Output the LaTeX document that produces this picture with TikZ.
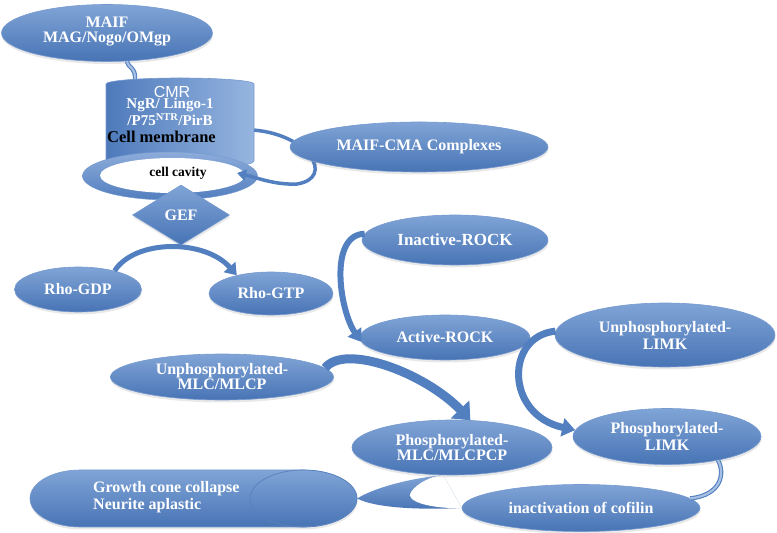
\documentclass[tikz,border=0pt]{standalone}
\usepackage{fontspec}
\setmainfont{Liberation Serif}
\setsansfont{Liberation Sans}
\usetikzlibrary{shapes.geometric,arrows.meta,shadows,calc}
\definecolor{btop}{RGB}{128,164,214}
\definecolor{bbot}{RGB}{72,116,181}
\definecolor{bline}{RGB}{118,154,208}
\definecolor{arrc}{RGB}{82,127,191}
\definecolor{cylL}{RGB}{78,122,187}
\definecolor{cylR}{RGB}{150,181,224}
\definecolor{ringT}{RGB}{140,172,218}
\definecolor{ringB}{RGB}{82,126,190}
\newcommand{\fs}[2]{\bfseries\fontsize{#1}{#2}\selectfont}
\tikzset{
  shapefill/.style={inner sep=0pt, top color=btop, bottom color=bbot, draw=bline, line width=0.6pt,
    text=white, align=center, font=\fs{16}{14},
    drop shadow={opacity=0.18, shadow xshift=0.5pt, shadow yshift=-2.5pt}},
  blob/.style={shapefill, ellipse},
  bigarr/.style={draw=arrc, line width=#1},
  tube/.style={draw=arrc, double=btop!70!white, double distance=2.2pt, line width=1.1pt},
  blacktxt/.style={text=black, inner sep=0pt}
}
\begin{document}
\begin{tikzpicture}[x=1pt,y=1pt]
\useasboundingbox (0,0) rectangle (777,533);

% nodes anchoring the crescent
\node[inner sep=0pt, minimum width=327pt, minimum height=57pt] (growth) at (193.5,34.5) {};
\node[inner sep=0pt, ellipse, minimum width=200pt, minimum height=55pt] (pmlc) at (452,85.5) {};
\node[inner sep=0pt, ellipse, minimum width=238pt, minimum height=47pt] (cofilin) at (581,25) {};

% crescent connector: body, then the white notch
\path[top color=btop, bottom color=bbot]
  (pmlc.-108) .. controls (405,54) and (372,44) .. (growth.east)
  .. controls (375,25) and (420,23) .. (cofilin.west) -- cycle;
\fill[white] (cofilin.west) .. controls (430,24) and (404,32) .. (411,41)
  .. controls (417,50) and (432,57) .. (pmlc.-108) -- cycle;

\node[blob, minimum width=200pt, minimum height=55pt, font=\fs{16}{13}] (pmlcbox) at (pmlc) {Phosphorylated-\\MLC/MLCPCP};
\node[blob, minimum width=238pt, minimum height=47pt] (cofbox) at (cofilin) {inactivation of cofilin};

% growth capsule
\path[top color=btop, bottom color=bbot, draw=bline, line width=0.6pt,
  drop shadow={opacity=0.18, shadow xshift=0.5pt, shadow yshift=-2.5pt}]
  (80,63) -- (303.5,63) arc[start angle=90,end angle=-90,x radius=53.5,y radius=28.5]
  -- (80,6) arc[start angle=270,end angle=90,x radius=50,y radius=28.5] -- cycle;
\draw[draw={rgb,255:red,88;green,128;blue,190}, line width=0.7pt] (303.5,34.5) ellipse[x radius=53.5, y radius=28.5];
\node[anchor=west, text=white, align=left, inner sep=0pt, font=\fs{16}{17}] (growthtxt) at (93,36) {Growth cone collapse\\Neurite aplastic};

% MAIF
\node[blob, minimum width=211pt, minimum height=57pt, font=\fs{16}{15}] (maif) at (107,500) {MAIF\\MAG/Nogo/OMgp\\[-8pt]\mbox{}};

% cylinder
\node[inner sep=0pt, minimum width=148pt, minimum height=85pt] (cmr) at (180,412) {};
\coordinate (cmrtop) at (135,453);
\draw[tube] (maif.-55) .. controls (128,465) and (136,466) .. (cmrtop);
\path[left color=cylL, right color=cylR, draw=bline, line width=0.6pt]
  (106,449) -- (106,372) arc[start angle=180,end angle=360,x radius=74,y radius=8]
  -- (254,449) arc[start angle=0,end angle=180,x radius=74,y radius=6] -- cycle;
\node[text=white, inner sep=0pt, font=\sffamily\fontsize{16}{16}\selectfont] (cmrlabel) at (172,441) {CMR};
\node[text=white, inner sep=0pt, align=center, font=\fs{15}{9.5}] (ngr) at (170,421) {NgR/ Lingo-1\\/P75\textsuperscript{NTR}/PirB};
\node[blacktxt, anchor=west, font=\fs{16.5}{16}] (memb) at (107,396) {Cell membrane};

% ring
\node[ellipse, inner sep=0pt, minimum width=175pt, minimum height=48pt, top color=ringT, bottom color=ringB, draw=bline, line width=0.5pt] (ring) at (170,357) {};
\fill[white] (172.5,357.5) ellipse[x radius=72.5, y radius=17.5];
\node[blacktxt, font=\fs{13.5}{14}] (cav) at (178,360) {cell cavity};

% loop arrow
\draw[bigarr=3.5pt, -{Triangle[length=9pt,width=11pt]}] (cmr.-7) .. controls (310,398) and (335,355) .. (297,349)
  .. controls (275,348) and (258,355) .. ($(ring.center)+(67,3)$);

% MAIF-CMA
\node[blob, minimum width=258pt, minimum height=50pt] (cma) at (419,386) {MAIF-CMA Complexes};

% GEF
\node[shapefill, diamond, minimum width=97pt, minimum height=60pt] (gef) at (181,318) {GEF};

% Rho
\node[blob, minimum width=127pt, minimum height=45pt] (rgdp) at (78,243.5) {Rho-GDP};
\node[blob, minimum width=124pt, minimum height=43pt] (rgtp) at (271,239.5) {Rho-GTP};
\draw[bigarr=5pt, -{Triangle[length=11pt,width=15pt]}] (rgdp.27) .. controls (135,294) and (205,294) .. (rgtp.152);

% ROCK
\node[blob, minimum width=186pt, minimum height=50pt, font=\fs{17}{14}] (irock) at (455,293) {Inactive-ROCK};
\node[blob, minimum width=170pt, minimum height=45pt] (arock) at (445,195.5) {Active-ROCK};
\draw[bigarr=6pt, -{Triangle[length=12pt,width=16pt]}] (irock.176) .. controls (328,298) and (340,222) .. (arock.183);

% MLC
\node[blob, minimum width=223pt, minimum height=46pt, font=\fs{16}{12}] (umlc) at (222,156) {Unphosphorylated-\\MLC/MLCP};
\draw[bigarr=9pt, -{Triangle[length=15pt,width=25pt]}] (umlc.5) .. controls (345,190) and (425,160) .. (pmlc.56);

% LIMK
\node[blob, minimum width=220pt, minimum height=64pt, font=\fs{16}{17}] (ulimk) at (665,198) {Unphosphorylated-\\LIMK};
\node[blob, minimum width=188pt, minimum height=56pt, font=\fs{16}{17}] (plimk) at (667,96.5) {Phosphorylated-\\LIMK};
\draw[bigarr=7pt, -{Triangle[length=13pt,width=18pt]}] (ulimk.178) .. controls (505,197) and (505,118) .. (plimk.176);
\draw[tube] (plimk.-25) .. controls (725,60) and (722,38) .. (cofilin.5);
\end{tikzpicture}
\end{document}
